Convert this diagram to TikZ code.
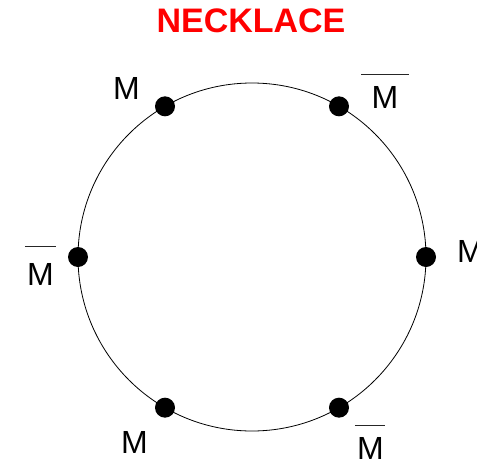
\documentclass[tikz,border=0pt]{standalone}
\usepackage{fontspec}
\setmainfont{Liberation Sans}
\usepackage{xcolor}
\usetikzlibrary{positioning, calc}
\definecolor{titleRed}{RGB}{255,0,0}
\tikzset{
  beadNode/.style={circle, fill=black, inner sep=0pt, minimum size=20pt},
  letterNode/.style={inner sep=0pt, font=\fontsize{32}{32}\selectfont},
  barLine/.style={line width=1.1pt, draw=black!85},
  titleNode/.style={inner sep=0pt, font=\fontsize{34}{34}\selectfont\bfseries, text=titleRed}
}

\begin{document}
\begin{tikzpicture}[x=1pt, y=-1pt]
  \useasboundingbox (0,0) rectangle (477,461);

  \node[titleNode] (title) at (251,20.5) {NECKLACE};

  \coordinate (centre) at (252,257);
  \draw[line width=0.8pt] (centre) circle [radius=174pt];

  % beads round the necklace
  \foreach \name/\ang in {right/0, topright/60, topleft/120, left/180, botleft/240, botright/300}
    \node[beadNode] (\name) at ($(centre)+(\ang:174pt)$) {};

  % letters
  \node[letterNode] (mTopLeft) at (126.5,88.5) {M};
  \node[letterNode] (mTopRight) at (385,97.5) {M};
  \node[letterNode] (mLeft) at (40.5,274) {M};
  \node[letterNode] (mRight) at (470.5,251.5) {M};
  \node[letterNode] (mBotLeft) at (134.5,442.5) {M};
  \node[letterNode] (mBotRight) at (370.5,448) {M};

  % bars over the conjugate beads
  \draw[barLine] ([xshift=-10pt, yshift=12pt]mTopRight.north west) -- ([xshift=10pt, yshift=12pt]mTopRight.north east);
  \draw[barLine] ([xshift=-2pt, yshift=16pt]mLeft.north west) -- ([xshift=2pt, yshift=16pt]mLeft.north east);
  \draw[barLine] ([xshift=-2pt, yshift=11pt]mBotRight.north west) -- ([xshift=1pt, yshift=11pt]mBotRight.north east);
\end{tikzpicture}
\end{document}
